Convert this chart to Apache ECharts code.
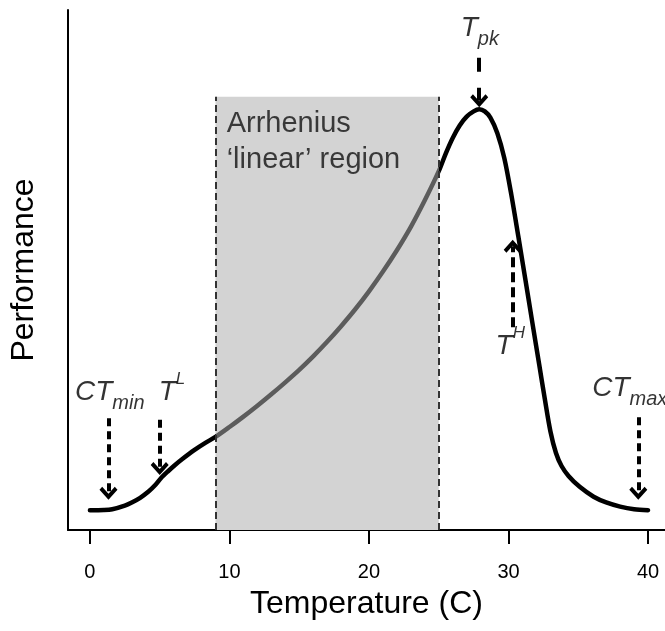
<!DOCTYPE html>
<html>
<head>
<meta charset="utf-8">
<script src="https://cdn.jsdelivr.net/npm/echarts@6/dist/echarts.min.js"></script>
<style>html,body{margin:0;padding:0;background:#fff}#c{width:665px;height:631px}</style>
</head>
<body>
<div id="c"></div>
<script>
// ---- data ----
const temps = [0, 1.0, 1.6, 2.5, 3.0, 3.6, 4.2, 4.7, 5.1, 5.6, 6.1, 6.6, 7.5, 8.3, 9.0,
  10, 11, 12, 13, 14, 15, 16, 17, 18, 19, 20, 21, 22, 23, 24, 25.0,
  25.5, 26.0, 26.5, 27.0, 27.5, 27.9, 28.3, 28.7, 29.2, 29.7, 30.2, 30.7, 31.2, 31.7, 32.2, 32.6,
  33.0, 33.4, 33.8, 34.3, 35.1, 36.1, 37.0, 38.0, 39.0, 40.0];
const perf = [3.8, 3.85, 4.0, 4.7, 5.3, 6.2, 7.4, 8.7, 10.0, 11.3, 12.5, 13.6, 15.4, 16.8, 17.9,
  19.8, 21.8, 23.9, 26.1, 28.4, 30.8, 33.4, 36.2, 39.2, 42.4, 45.9, 49.7, 53.8, 58.3, 63.4, 69.0,
  72.4, 75.4, 77.8, 79.5, 80.5, 80.9, 80.5, 79.3, 76.3, 71.5, 64.5, 56.5, 48.3, 40.0, 31.8, 25.2,
  19.0, 14.8, 12.3, 10.4, 8.3, 6.4, 5.3, 4.5, 4.0, 3.8];
const xTicks = [0, 10, 20, 30, 40];
const regionX = [9, 25];
const regionTop = 83.3;
const regionText = ['Arrhenius', '\u2018linear\u2019 region'];
const regionTextPos = [9.8, 81.5];
// arrows: x, start value, tip value
const arrowX    = [1.33, 5.0, 27.9, 30.3, 39.3];
const arrowFrom = [21.5, 21.2, 90.8, 39.0, 21.7];
const arrowTo   = [5.8, 10.6, 81.3, 55.8, 5.8];
const arrowDash = [[8, 5], [8, 5], [14, 16], [10, 5], [8, 5]];
// annotation labels
const labelMain = ['CT', 'T', 'T', 'T', 'CT'];
const labelSub  = ['min', '', 'pk', '', 'max'];
const labelSup  = ['', 'L', '', 'H', ''];
const labelX    = [-1.07, 4.93, 26.57, 29.07, 36.0];
const labelY    = [26.5, 26.5, 96.5, 35.4, 27.3];

const FONT = 'Liberation Sans, Arial, sans-serif';
const TXT = '#000';
const chart = echarts.init(document.getElementById('c'), null, {renderer: 'canvas'});

const curve = temps.map((t, i) => [t, perf[i]]);
const yPerPx = 100 / 520;
const arrowLines = arrowX.map((x, i) => {
  const dir = arrowTo[i] > arrowFrom[i] ? 1 : -1;
  return [
    {coord: [x, arrowFrom[i]], lineStyle: {color: '#000', width: 4, type: arrowDash[i]}},
    {coord: [x, arrowTo[i] - dir * 6.5 * yPerPx]}
  ];
});
const chevron = 'path://M10,0 L20,10 L17,13 L10,6 L3,13 L0,10 Z';

const labelData = labelMain.map((m, i) => {
  let f = '{b|' + m + '}';
  if (labelSub[i]) f += '{sub|' + labelSub[i] + '}';
  if (labelSup[i]) f += '{sup|' + labelSup[i] + '}';
  return {value: [labelX[i], labelY[i]], label: {formatter: f}};
});
labelData.push({
  value: regionTextPos,
  label: {formatter: regionText.map(s => '{r|' + s + '}').join('\n'), verticalAlign: 'top'}
});

chart.setOption({
  animation: false,
  backgroundColor: '#fff',
  grid: {left: 66, right: 0, top: 10, bottom: 101, containLabel: false},
  xAxis: {
    type: 'value', min: -22 / 14, max: 577 / 14,
    axisLine: {show: true, onZero: false, lineStyle: {color: '#000', width: 2}},
    axisTick: {show: true, customValues: xTicks, length: 14, lineStyle: {color: '#000', width: 2}},
    axisLabel: {show: true, customValues: xTicks, margin: 32, fontSize: 20, color: TXT, fontFamily: FONT},
    splitLine: {show: false},
    name: 'Temperature (C)', nameLocation: 'middle', nameGap: 58,
    nameTextStyle: {fontSize: 32, color: TXT, fontFamily: FONT}
  },
  yAxis: {
    type: 'value', min: 0, max: 100,
    axisLine: {show: true, onZero: false, lineStyle: {color: '#000', width: 2}},
    axisTick: {show: false}, axisLabel: {show: false}, splitLine: {show: false},
    name: 'Performance', nameLocation: 'middle', nameGap: 28, nameRotate: 90,
    nameTextStyle: {fontSize: 32, color: TXT, fontFamily: FONT}
  },
  visualMap: {
    type: 'piecewise', show: false, dimension: 0, seriesIndex: 0,
    pieces: [
      {lt: regionX[0], color: '#000'},
      {gte: regionX[0], lte: regionX[1], color: '#5c5c5c'},
      {gt: regionX[1], color: '#000'}
    ]
  },
  series: [
    {
      type: 'line', data: curve, smooth: 0.3, showSymbol: false, silent: true, z: 3,
      lineStyle: {width: 4.5, cap: 'round'}
    },
    {
      type: 'line', data: [], silent: true, z: 1,
      markArea: {
        silent: true, itemStyle: {color: '#d3d3d3'},
        data: [[{xAxis: regionX[0], yAxis: 0}, {xAxis: regionX[1], yAxis: regionTop}]]
      },
      markLine: {
        silent: true, symbol: ['none', 'none'], label: {show: false},
        lineStyle: {color: '#333', width: 2, type: [7, 4]},
        data: regionX.map(x => [{coord: [x, 0]}, {coord: [x, regionTop]}])
      }
    },
    {
      type: 'line', data: [], silent: true, z: 4,
      markLine: {
        silent: true, symbol: ['none', chevron], symbolSize: [18, 13], label: {show: false},
        lineStyle: {color: '#000', width: 4, type: [8, 5]},
        data: arrowLines
      }
    },
    {
      type: 'scatter', data: labelData, symbolSize: 0, silent: true, clip: false, z: 5,
      label: {
        show: true, position: 'inside', align: 'left', verticalAlign: 'middle',
        fontFamily: FONT, color: TXT,
        rich: {
          b: {fontSize: 28, fontStyle: 'italic', fontFamily: FONT, color: TXT, lineHeight: 42},
          sub: {fontSize: 20, fontStyle: 'italic', fontFamily: FONT, color: TXT, lineHeight: 19, verticalAlign: 'bottom'},
          sup: {fontSize: 17, fontStyle: 'italic', fontFamily: FONT, color: TXT, lineHeight: 26, verticalAlign: 'top'},
          r: {fontSize: 29, fontFamily: FONT, color: '#111', lineHeight: 36}
        }
      }
    }
  ]
});
</script>
</body>
</html>
